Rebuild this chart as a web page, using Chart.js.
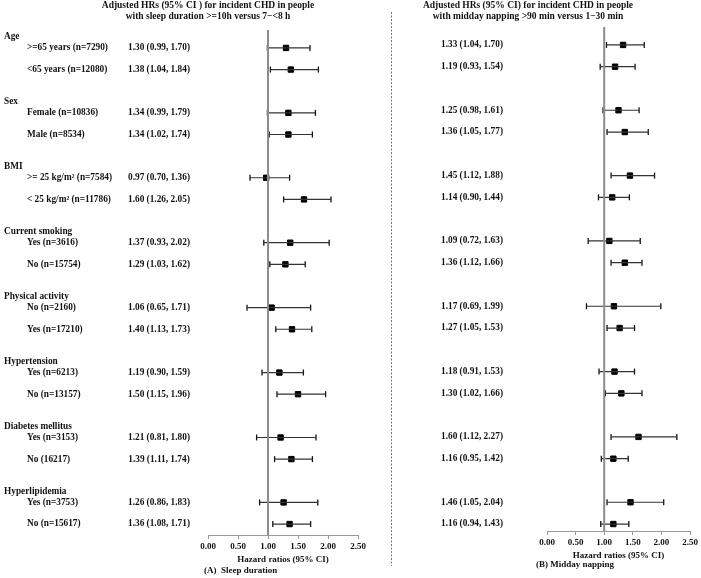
<!DOCTYPE html>
<html>
<head>
<meta charset="utf-8">
<script src="https://cdn.jsdelivr.net/npm/chart.js@4.4.0/dist/chart.umd.min.js"></script>
<style>
  html, body { margin: 0; padding: 0; background: #fff; }
  #wrap { position: relative; width: 701px; height: 578px; overflow: hidden; background: #fff; }
  #wrap canvas { position: absolute; top: 0; }
  #sleepChart { left: 0; }
  #napChart { left: 392px; }
</style>
</head>
<body>
<div id="wrap">
  <canvas id="sleepChart" width="392" height="578"></canvas>
  <canvas id="napChart" width="309" height="578"></canvas>
</div>
<script>
// ---- data ----
const groups = ['Age', 'Sex', 'BMI', 'Current smoking', 'Physical activity',
    'Hypertension', 'Diabetes mellitus', 'Hyperlipidemia'];
const subgroups = [
    '>=65 years (n=7290)', '<65 years (n=12080)',
    'Female (n=10836)', 'Male (n=8534)',
    '>= 25 kg/m\u00b2 (n=7584)', '< 25 kg/m\u00b2 (n=11786)',
    'Yes (n=3616)', 'No (n=15754)',
    'No (n=2160)', 'Yes (n=17210)',
    'Yes (n=6213)', 'No (n=13157)',
    'Yes (n=3153)', 'No (16217)',
    'Yes (n=3753)', 'No (n=15617)'
];
const sleepHR   = [1.30, 1.38, 1.34, 1.34, 0.97, 1.60, 1.37, 1.29, 1.06, 1.40, 1.19, 1.50, 1.21, 1.39, 1.26, 1.36];
const sleepLow  = [0.99, 1.04, 0.99, 1.02, 0.70, 1.26, 0.93, 1.03, 0.65, 1.13, 0.90, 1.15, 0.81, 1.11, 0.86, 1.08];
const sleepHigh = [1.70, 1.84, 1.79, 1.74, 1.36, 2.05, 2.02, 1.62, 1.71, 1.73, 1.59, 1.96, 1.80, 1.74, 1.83, 1.71];
const napHR     = [1.33, 1.19, 1.25, 1.36, 1.45, 1.14, 1.09, 1.36, 1.17, 1.27, 1.18, 1.30, 1.60, 1.16, 1.46, 1.16];
const napLow    = [1.04, 0.93, 0.98, 1.05, 1.12, 0.90, 0.72, 1.12, 0.69, 1.05, 0.91, 1.02, 1.12, 0.95, 1.05, 0.94];
const napHigh   = [1.70, 1.54, 1.61, 1.77, 1.88, 1.44, 1.63, 1.66, 1.99, 1.53, 1.53, 1.66, 2.27, 1.42, 2.04, 1.43];
const xTicks = [0, 0.5, 1, 1.5, 2, 2.5];

// two rows per group, one empty row between groups
const rowPos = subgroups.map((_, i) => Math.floor(i / 2) * 3 + (i % 2));

const FONT = '"Liberation Serif", "Times New Roman", serif';

function fmt(hr, lo, hi) {
    return hr.toFixed(2) + ' (' + lo.toFixed(2) + ', ' + hi.toFixed(2) + ')';
}

// ---- text columns, titles and captions ----
const forestText = {
    id: 'forestText',
    afterDraw(chart, args, o) {
        const { ctx, scales: { y } } = chart;
        ctx.save();
        ctx.fillStyle = '#111';
        ctx.textBaseline = 'middle';

        ctx.font = 'bold 9.5px ' + FONT;
        ctx.textAlign = 'center';
        o.title.forEach((t, k) => ctx.fillText(t, o.titleX, o.titleY + k * 10.5));

        ctx.font = 'bold 9.3px ' + FONT;
        if (o.showLabels) {
            ctx.textAlign = 'left';
            groups.forEach((g, k) => ctx.fillText(g, 4, y.getPixelForValue(rowPos[k * 2] - 0.5)));
            subgroups.forEach((s, i) => ctx.fillText(s, 27, y.getPixelForValue(rowPos[i])));
        }
        ctx.textAlign = 'center';
        o.hr.forEach((v, i) => ctx.fillText(fmt(v, o.low[i], o.high[i]), o.textX, y.getPixelForValue(rowPos[i])));

        ctx.font = 'bold 9px ' + FONT;
        ctx.textAlign = 'left';
        ctx.fillText(o.caption, o.captionX, o.captionY);

        if (o.divider) {
            ctx.strokeStyle = '#777';
            ctx.lineWidth = 1;
            ctx.setLineDash([2, 1.5]);
            ctx.beginPath();
            ctx.moveTo(chart.width - 0.5, 12);
            ctx.lineTo(chart.width - 0.5, 566);
            ctx.stroke();
        }
        ctx.restore();
    }
};

function forestDatasets(hr, lo, hi) {
    const whisker = [];
    const caps = [];
    hr.forEach((_, i) => {
        whisker.push({ x: lo[i], y: rowPos[i] }, { x: hi[i], y: rowPos[i] }, { x: hi[i], y: null });
        caps.push({ x: lo[i], y: rowPos[i] }, { x: hi[i], y: rowPos[i] });
    });
    return [
        {   // reference line at HR = 1
            data: [{ x: 1, y: -5 }, { x: 1, y: 30 }],
            showLine: true, borderColor: '#8c8c8c', borderWidth: 2, pointRadius: 0
        },
        {
            data: whisker,
            showLine: true, spanGaps: false, borderColor: '#333', borderWidth: 1.2, pointRadius: 0
        },
        {
            data: caps,
            pointStyle: 'line', rotation: 90, pointRadius: 3,
            borderColor: '#111', borderWidth: 1.3
        },
        {
            data: hr.map((v, i) => ({ x: v, y: rowPos[i] })),
            pointStyle: 'rect', pointRadius: 3.8,
            backgroundColor: '#000', borderColor: '#000', borderWidth: 1
        }
    ];
}

function renderForest(id, hr, lo, hi, layout, yRange, text) {
    new Chart(document.getElementById(id), {
        type: 'scatter',
        data: { datasets: forestDatasets(hr, lo, hi) },
        options: {
            responsive: false,
            animation: false,
            events: [],
            layout: { padding: layout },
            plugins: {
                legend: { display: false },
                tooltip: { enabled: false },
                forestText: text
            },
            scales: {
                x: {
                    type: 'linear',
                    min: 0,
                    max: 2.5,
                    afterBuildTicks: s => { s.ticks = xTicks.map(v => ({ value: v })); },
                    ticks: {
                        padding: 2,
                        color: '#111',
                        font: { family: FONT, size: 9, weight: 'bold' },
                        callback: v => v.toFixed(2)
                    },
                    grid: { drawOnChartArea: false, drawTicks: true, tickLength: 4, color: '#999' },
                    border: { color: '#999', width: 1 },
                    title: {
                        display: true,
                        text: 'Hazard ratios (95% CI)',
                        color: '#111',
                        padding: 0,
                        font: { family: FONT, size: 9, weight: 'bold' }
                    }
                },
                y: {
                    type: 'linear',
                    display: false,
                    reverse: true,
                    min: yRange[0],
                    max: yRange[1]
                }
            }
        },
        plugins: [forestText]
    });
}

renderForest('sleepChart', sleepHR, sleepLow, sleepHigh,
    { left: 208, right: 34, top: 30, bottom: 13.4 },
    [-0.828, 22.506],
    {
        title: ['Adjusted HRs (95% CI ) for incident CHD in people',
                'with sleep duration >=10h versus 7\u2212<8 h'],
        titleX: 208, titleY: 6,
        showLabels: true,
        hr: sleepHR, low: sleepLow, high: sleepHigh,
        textX: 159,
        caption: '(A)  Sleep duration', captionX: 204, captionY: 571,
        divider: true
    });

renderForest('napChart', napHR, napLow, napHigh,
    { left: 155, right: 11, top: 27, bottom: 17.4 },
    [-0.823, 22.32],
    {
        title: ['Adjusted HRs (95% CI) for incident CHD in people',
                'with midday napping >90 min versus 1\u221230 min'],
        titleX: 136, titleY: 6,
        showLabels: false,
        hr: napHR, low: napLow, high: napHigh,
        textX: 80,
        caption: '(B) Midday napping', captionX: 144, captionY: 565,
        divider: false
    });
</script>
</body>
</html>
